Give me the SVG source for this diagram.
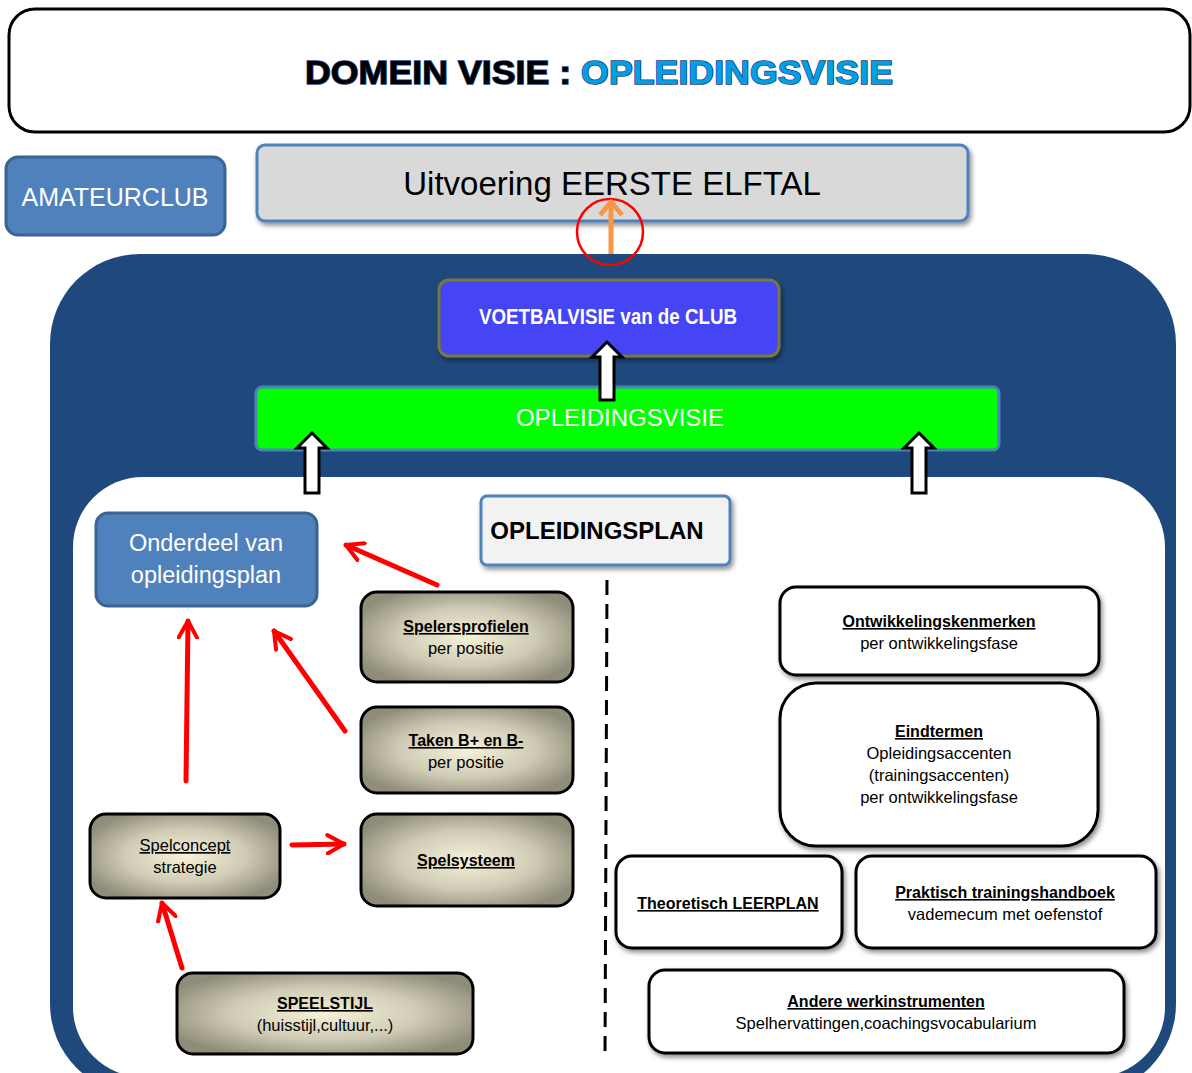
<svg xmlns="http://www.w3.org/2000/svg" width="1192" height="1073" viewBox="0 0 1192 1073">
<defs>
<style>
.t{font-family:"Liberation Sans",Arial,sans-serif;text-anchor:middle}
.b{font-weight:bold;text-decoration:underline;font-size:16px}
.r{font-size:16.5px}
.g{fill:url(#rg);stroke:#000;stroke-width:3}
.w{fill:#fff;stroke:#000;stroke-width:3}
.ra{stroke:#ff0000;stroke-width:5;fill:none;stroke-linecap:round;marker-end:url(#rh)}
.ba{fill:#fff;stroke:#000;stroke-width:3}
</style>
<radialGradient id="rg" cx="50%" cy="50%" r="58%">
<stop offset="0" stop-color="#f6f2da"/>
<stop offset="0.55" stop-color="#cfcbb4"/>
<stop offset="1" stop-color="#8f8c7a"/>
</radialGradient>
<filter id="sh" x="-10%" y="-10%" width="125%" height="130%">
<feDropShadow dx="2" dy="3" stdDeviation="2.5" flood-color="#000" flood-opacity="0.45"/>
</filter>
<marker id="rh" viewBox="0 0 12 12" refX="10" refY="6" markerWidth="4.4" markerHeight="4.4" orient="auto" markerUnits="strokeWidth">
<path d="M1,1 L10,6 L1,11" fill="none" stroke="#ff0000" stroke-width="2.2" stroke-linecap="round" stroke-linejoin="round"/>
</marker>
</defs>
<rect width="1192" height="1073" fill="#fff"/>

<g id="header">
<rect x="9" y="9" width="1181" height="123" rx="26" fill="#fff" stroke="#000" stroke-width="3"/>
<text x="599" y="84" class="t" font-family="'DejaVu Sans',sans-serif" font-weight="bold" font-size="33" textLength="588" lengthAdjust="spacingAndGlyphs" stroke="#1f3f7a" stroke-width="1.5" paint-order="stroke"><tspan fill="#000">DOMEIN VISIE : </tspan><tspan fill="#00a0e6">OPLEIDINGSVISIE</tspan></text>
</g>

<g id="amateurclub">
<rect x="6" y="157" width="219" height="78" rx="12" fill="#4f81bd" stroke="#3a6494" stroke-width="3"/>
<text x="115" y="206" class="t" font-size="25" fill="#fff">AMATEURCLUB</text>
</g>

<g id="uitvoering">
<rect x="257" y="145" width="711" height="76" rx="8" fill="#d9d9d9" stroke="#4f81bd" stroke-width="3" filter="url(#sh)"/>
<text x="612" y="195" class="t" font-size="33" fill="#000">Uitvoering EERSTE ELFTAL</text>
</g>

<g id="club-area">
<rect x="50" y="254" width="1126" height="840" rx="90" fill="#1f497d"/>
<rect x="73" y="477" width="1092" height="600" rx="70" fill="#fff"/>
</g>

<g id="voetbalvisie">
<rect x="439" y="280" width="340" height="76" rx="10" fill="#4545f5" stroke="#76783c" stroke-width="3" filter="url(#sh)"/>
<text x="608" y="324" class="t" font-size="22" font-weight="bold" fill="#fff" textLength="258" lengthAdjust="spacingAndGlyphs">VOETBALVISIE  van de CLUB</text>
</g>

<g id="opleidingsvisie">
<rect x="256" y="387" width="743" height="63" rx="6" fill="#00ff00" stroke="#4f81bd" stroke-width="3"/>
<text x="620" y="426" class="t" font-size="24" fill="#fff">OPLEIDINGSVISIE</text>
</g>

<g id="opleidingsplan">
<rect x="481" y="496" width="249" height="69" rx="6" fill="#f2f2f2" stroke="#4f81bd" stroke-width="3" filter="url(#sh)"/>
<text x="597" y="539" class="t" font-size="24" font-weight="bold" fill="#000">OPLEIDINGSPLAN</text>
</g>

<g id="onderdeel">
<rect x="96" y="513" width="221" height="93" rx="12" fill="#4f81bd" stroke="#3a6494" stroke-width="3"/>
<text x="206" y="551" class="t" font-size="23.5" fill="#fff">Onderdeel  van</text>
<text x="206" y="583" class="t" font-size="23.5" fill="#fff">opleidingsplan</text>
</g>

<g id="spelersprofielen">
<rect x="361" y="592" width="212" height="90" rx="16" class="g"/>
<text x="466" y="632" class="t b">Spelersprofielen</text>
<text x="466" y="654" class="t r">per positie</text>
</g>

<g id="taken">
<rect x="361" y="707" width="212" height="86" rx="16" class="g"/>
<text x="466" y="746" class="t b">Taken B+ en B-</text>
<text x="466" y="768" class="t r">per positie</text>
</g>

<g id="spelsysteem">
<rect x="361" y="814" width="212" height="92" rx="16" class="g"/>
<text x="466" y="866" class="t b">Spelsysteem</text>
</g>

<g id="spelconcept">
<rect x="90" y="814" width="190" height="84" rx="16" class="g"/>
<text x="185" y="851" class="t r" text-decoration="underline">Spelconcept</text>
<text x="185" y="873" class="t r">strategie</text>
</g>

<g id="speelstijl">
<rect x="177" y="973" width="296" height="81" rx="16" class="g"/>
<text x="325" y="1009" class="t b">SPEELSTIJL</text>
<text x="325" y="1031" class="t r">(huisstijl,cultuur,...)</text>
</g>

<g id="ontwikkelingskenmerken">
<rect x="780" y="587" width="319" height="88" rx="16" class="w" filter="url(#sh)"/>
<text x="939" y="627" class="t b">Ontwikkelingskenmerken</text>
<text x="939" y="649" class="t r">per ontwikkelingsfase</text>
</g>

<g id="eindtermen">
<rect x="780" y="683" width="318" height="163" rx="36" class="w" filter="url(#sh)"/>
<text x="939" y="737" class="t b">Eindtermen</text>
<text x="939" y="759" class="t r">Opleidingsaccenten</text>
<text x="939" y="781" class="t r">(trainingsaccenten)</text>
<text x="939" y="803" class="t r">per ontwikkelingsfase</text>
</g>

<g id="theoretisch">
<rect x="616" y="856" width="226" height="92" rx="16" class="w" filter="url(#sh)"/>
<text x="728" y="909" class="t b">Theoretisch LEERPLAN</text>
</g>

<g id="praktisch">
<rect x="856" y="856" width="300" height="92" rx="16" class="w" filter="url(#sh)"/>
<text x="1005" y="898" class="t b">Praktisch trainingshandboek</text>
<text x="1005" y="920" class="t r">vademecum met oefenstof</text>
</g>

<g id="andere">
<rect x="649" y="970" width="475" height="83" rx="16" class="w" filter="url(#sh)"/>
<text x="886" y="1007" class="t b">Andere werkinstrumenten</text>
<text x="886" y="1029" class="t r">Spelhervattingen,coachingsvocabularium</text>
</g>

<g id="connectors">
<circle cx="610" cy="232" r="33" fill="none" stroke="#ff0000" stroke-width="2.5"/>
<line x1="611" y1="254" x2="611" y2="205" stroke="#f79646" stroke-width="5"/>
<path d="M600,215 L611,202 L622,215" fill="none" stroke="#f79646" stroke-width="5" stroke-linejoin="round"/>
<path class="ba" d="M607,342 L622,357 L614,357 L614,400 L600,400 L600,357 L592,357 Z"/>
<path class="ba" d="M312,433 L327,448 L319,448 L319,493 L305,493 L305,448 L297,448 Z"/>
<path class="ba" d="M919,433 L934,448 L926,448 L926,493 L912,493 L912,448 L904,448 Z"/>
<line x1="607" y1="580" x2="605" y2="1056" stroke="#000" stroke-width="3" stroke-dasharray="15,9"/>
<line class="ra" x1="437" y1="585" x2="346" y2="545"/>
<line class="ra" x1="186" y1="781" x2="188" y2="621"/>
<line class="ra" x1="345" y1="731" x2="274" y2="631"/>
<line class="ra" x1="292" y1="845" x2="344" y2="844"/>
<line class="ra" x1="182" y1="968" x2="162" y2="903"/>
</g>
</svg>
